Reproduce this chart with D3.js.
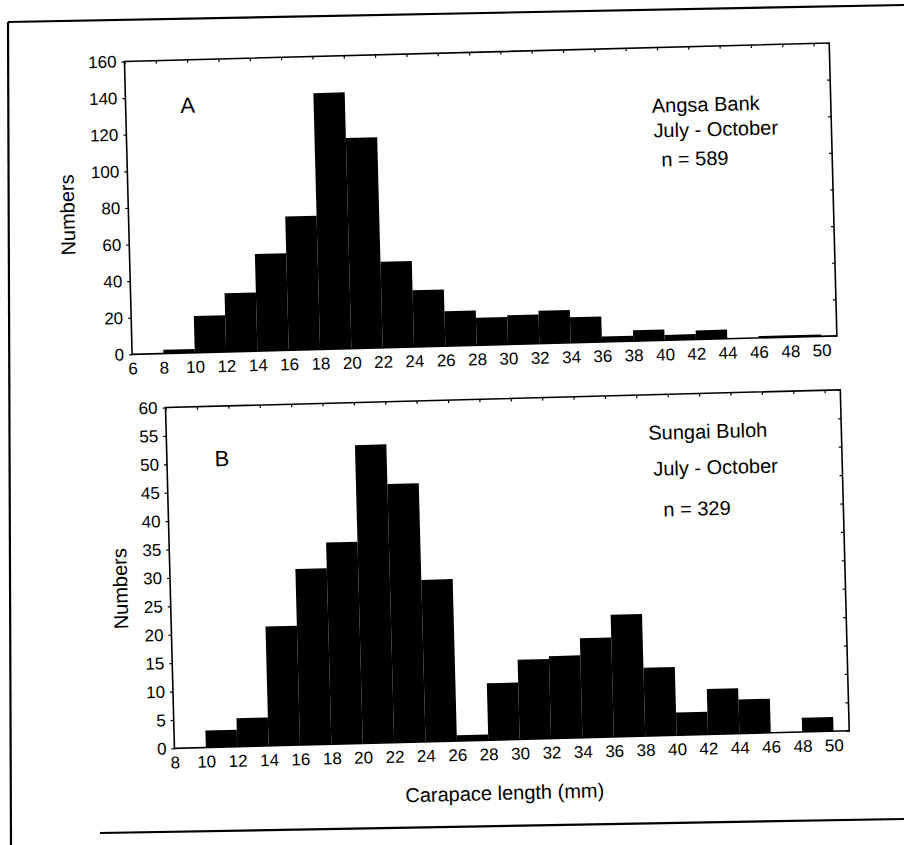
<!DOCTYPE html>
<html>
<head>
<meta charset="utf-8">
<script src="https://cdn.jsdelivr.net/npm/d3@7"></script>
<style>
body { margin: 0; background: #fff; }
svg text { font-family: "Liberation Sans", Arial, sans-serif; fill: #000; }
</style>
</head>
<body>
<svg id="chart" width="904" height="845"></svg>
<script>
// panel A - Angsa Bank, bins are 2 mm wide, value = lower edge
var binsA = [8, 10, 12, 14, 16, 18, 20, 22, 24, 26, 28, 30, 32, 34, 36, 38, 40, 42, 44, 46, 48];
var countsA = [2, 20, 32, 53, 73, 140, 115, 47, 31, 19, 15, 16, 18, 14, 3, 6, 3, 5, 0, 1, 1];
var xTicksA = [6, 8, 10, 12, 14, 16, 18, 20, 22, 24, 26, 28, 30, 32, 34, 36, 38, 40, 42, 44, 46, 48, 50];
var yTicksA = [0, 20, 40, 60, 80, 100, 120, 140, 160];
var notesA = ["Angsa Bank", "July - October", "n = 589"];

// panel B - Sungai Buloh
var binsB = [10, 12, 14, 16, 18, 20, 22, 24, 26, 28, 30, 32, 34, 36, 38, 40, 42, 44, 46, 48];
var countsB = [3, 5, 21, 31, 35.5, 52.5, 45.5, 28.5, 1, 10, 14, 14.5, 17.5, 21.5, 12, 4, 8, 6, 0, 2.5];
var xTicksB = [8, 10, 12, 14, 16, 18, 20, 22, 24, 26, 28, 30, 32, 34, 36, 38, 40, 42, 44, 46, 48, 50];
var yTicksB = [0, 5, 10, 15, 20, 25, 30, 35, 40, 45, 50, 55, 60];
var notesB = ["Sungai Buloh", "July - October", "n = 329"];

const BIN_W = 2;

var svg = d3.select("#chart");

// the page frame (scan is a bit skewed)
var frame = svg.append("g").attr("stroke", "#000").attr("stroke-width", 2.2).attr("fill", "none");
frame.append("path").attr("d", "M8,22 L904,5");
frame.append("path").attr("d", "M8,22 L11,845");
frame.append("path").attr("d", "M100,833 L904,819");

// whole figure is rotated slightly like the scan
var fig = svg.append("g").attr("transform", "rotate(-1.5,452,422)");

make_panel(fig, {
    bins: binsA, counts: countsA, xTicks: xTicksA, yTicks: yTicksA,
    x0: 134, x1: 839, y0: 53, y1: 346, xMin: 6, xMax: 51, yMax: 160,
    letter: "A", letterX: 196, letterY: 106,
    notes: notesA, noteX: [660, 661, 668], noteY: [118, 143, 172],
    titleX: 73, titleY: 205
});

make_panel(fig, {
    bins: binsB, counts: countsB, xTicks: xTicksB, yTicks: yTicksB,
    x0: 166, x1: 841, y0: 400, y1: 741, xMin: 8, xMax: 51, yMax: 60,
    letter: "B", letterX: 221, letterY: 460,
    notes: notesB, noteX: [648, 652, 661], noteY: [445, 481, 522],
    titleX: 116, titleY: 580
});

fig.append("text")
    .attr("x", 495).attr("y", 801)
    .attr("text-anchor", "middle")
    .attr("font-size", "20px")
    .text("Carapace length (mm)");

function make_panel(g, p) {
    var x = d3.scaleLinear().domain([p.xMin, p.xMax]).range([p.x0, p.x1]);
    var y = d3.scaleLinear().domain([0, p.yMax]).range([p.y1, p.y0]);
    var panel = g.append("g");

    panel.selectAll("rect.bar")
        .data(p.bins)
        .enter()
        .append("rect")
        .attr("class", "bar")
        .attr("x", function(d) {return x(d); })
        .attr("width", function(d) {return x(d + BIN_W) - x(d); })
        .attr("y", function(d, i) {return y(p.counts[i]); })
        .attr("height", function(d, i) {return y(0) - y(p.counts[i]); })
        .attr("fill", "#000");

    var yAxis = d3.axisLeft(y).tickValues(p.yTicks).tickSize(3).tickPadding(5);
    var xAxis = d3.axisBottom(x).tickValues(p.xTicks).tickSize(0).tickPadding(8);

    var ya = panel.append("g").attr("transform", "translate(" + p.x0 + ",0)").call(yAxis);
    var xa = panel.append("g").attr("transform", "translate(0," + p.y1 + ")").call(xAxis);
    // mirror ticks on top and right
    var ta = panel.append("g").attr("transform", "translate(0," + p.y0 + ")")
        .call(d3.axisTop(x).tickValues(p.xTicks).tickSize(-3).tickFormat(""));
    var ra = panel.append("g").attr("transform", "translate(" + p.x1 + ",0)")
        .call(d3.axisRight(y).tickValues(p.yTicks).tickSize(-3).tickFormat(""));

    [ya, xa, ta, ra].forEach(function(a) {
        a.select(".domain").remove();
        a.selectAll("line").attr("stroke", "#000").attr("stroke-width", 1.2);
        a.selectAll("text").attr("font-size", "17px").attr("font-family", null).attr("fill", "#000");
    });

    panel.append("rect")
        .attr("x", p.x0).attr("y", p.y0)
        .attr("width", p.x1 - p.x0).attr("height", p.y1 - p.y0)
        .attr("fill", "none")
        .attr("stroke", "#000")
        .attr("stroke-width", 1.6);

    panel.append("text")
        .attr("x", p.letterX).attr("y", p.letterY)
        .attr("text-anchor", "middle")
        .attr("font-size", "22px")
        .text(p.letter);

    panel.selectAll("text.note")
        .data(p.notes)
        .enter()
        .append("text")
        .attr("class", "note")
        .attr("x", function(d, i) {return p.noteX[i]; })
        .attr("y", function(d, i) {return p.noteY[i]; })
        .attr("font-size", "20px")
        .text(function(d) {return d; });

    panel.append("text")
        .attr("transform", "translate(" + p.titleX + "," + p.titleY + ") rotate(-90)")
        .attr("text-anchor", "middle")
        .attr("dy", "0.35em")
        .attr("font-size", "20px")
        .text("Numbers");
}
</script>
</body>
</html>
